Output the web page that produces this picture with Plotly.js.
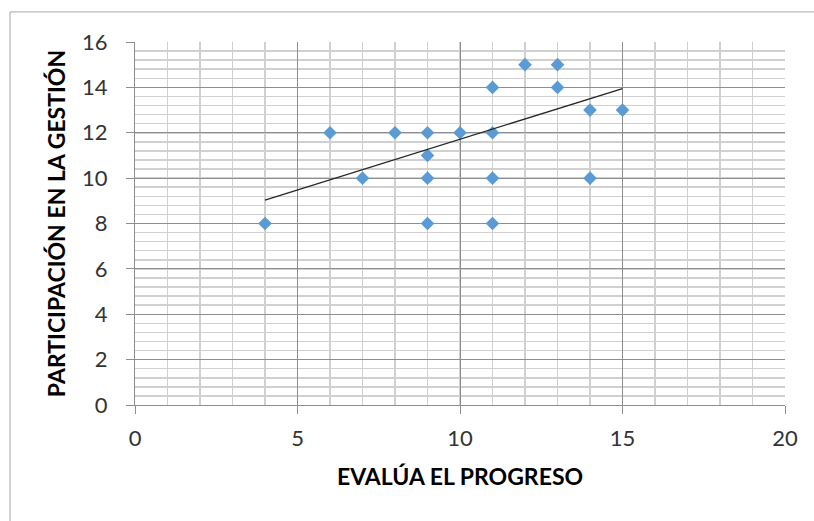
<!DOCTYPE html>
<html>
<head>
<meta charset="utf-8">
<script src="https://cdn.plot.ly/plotly-3.0.1.min.js"></script>
<style>html,body{margin:0;padding:0;background:#fff;}#chart{width:814px;height:521px;}</style>
</head>
<body>
<div id="chart"></div>
<script>
// Data
const evaluaProgreso = [4, 6, 7, 8, 9, 9, 9, 9, 10, 11, 11, 11, 11, 12, 13, 13, 14, 14, 15];
const participacionGestion = [8, 12, 10, 12, 12, 11, 10, 8, 12, 14, 12, 10, 8, 15, 15, 14, 13, 10, 13];
// Linear trendline endpoints as drawn in the reference
const trendX = [4, 15];
const trendY = [9.03, 13.95];
const xTicks = [0, 5, 10, 15, 20];
const yTicks = [0, 2, 4, 6, 8, 10, 12, 14, 16];
const xTitle = 'EVALÚA EL PROGRESO';
const yTitle = 'PARTICIPACIÓN EN LA GESTIÓN';

const fontFam = 'Lato, "Open Sans", sans-serif';

const traces = [
  {
    x: evaluaProgreso, y: participacionGestion, type: 'scatter', mode: 'markers',
    marker: {symbol: 'diamond', size: 10.5, color: '#5b9bd5', line: {width: 0}},
    hoverinfo: 'x+y', showlegend: false
  },
  {
    x: trendX, y: trendY, type: 'scatter', mode: 'lines',
    line: {color: '#262626', width: 1.3}, hoverinfo: 'skip', showlegend: false
  }
];

const layout = {
  width: 814, height: 521,
  margin: {l: 135, r: 29, t: 42, b: 116},
  paper_bgcolor: '#ffffff', plot_bgcolor: '#ffffff',
  font: {family: fontFam, color: '#404040'},
  showlegend: false,
  xaxis: {
    range: [0, 20], tickmode: 'array', tickvals: xTicks, ticktext: xTicks.map(String),
    showgrid: true, gridcolor: '#8e8e8e', gridwidth: 1,
    minor: {dtick: 1, showgrid: true, gridcolor: '#d0d0d0', gridwidth: 1.5},
    zeroline: false, showline: true, linecolor: '#8e8e8e', linewidth: 1,
    ticks: 'outside', ticklen: 8, tickcolor: '#8e8e8e', tickwidth: 1,
    tickfont: {family: fontFam, size: 22, color: '#333333'},
    ticklabelstandoff: 6,
    title: {text: xTitle, font: {family: fontFam, size: 23, color: '#000000', weight: 'bold'}, standoff: 18},
    automargin: false, fixedrange: true
  },
  yaxis: {
    range: [0, 16], tickmode: 'array', tickvals: yTicks, ticktext: yTicks.map(String),
    showgrid: true, gridcolor: '#8e8e8e', gridwidth: 1,
    minor: {dtick: 0.4, showgrid: true, gridcolor: '#d0d0d0', gridwidth: 1.5},
    zeroline: false, showline: true, linecolor: '#8e8e8e', linewidth: 1,
    ticks: 'outside', ticklen: 8, tickcolor: '#8e8e8e', tickwidth: 1,
    tickfont: {family: fontFam, size: 22, color: '#333333'},
    ticklabelstandoff: 14,
    title: {text: yTitle, font: {family: fontFam, size: 23, color: '#000000', weight: 'bold'}, standoff: 10},
    automargin: false, fixedrange: true
  },
  shapes: [
    {type: 'rect', xref: 'paper', yref: 'paper', x0: -0.1923, x1: 1.2, y0: -0.5, y1: 1.0829,
     line: {color: '#a6a6a6', width: 1}, fillcolor: 'rgba(0,0,0,0)', layer: 'below'}
  ]
};

Plotly.newPlot('chart', traces, layout, {staticPlot: true, displayModeBar: false});
</script>
</body>
</html>
